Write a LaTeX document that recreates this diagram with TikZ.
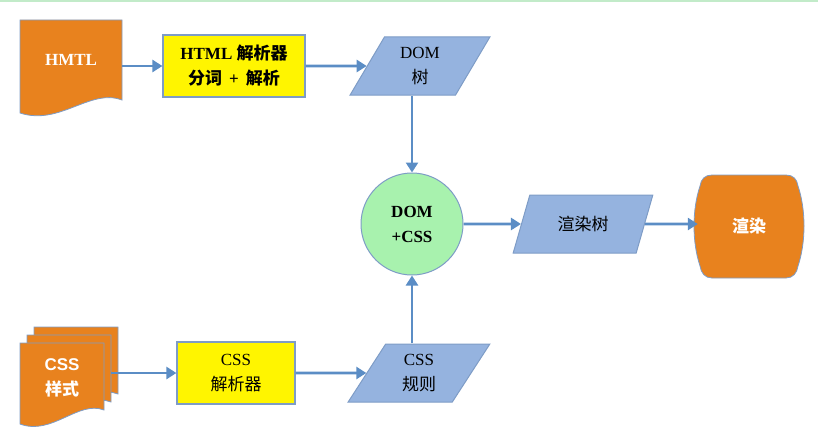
\documentclass[tikz,border=0pt]{standalone}
\usepackage{fontspec}
\setmainfont{Liberation Serif}
\newfontfamily\cjk{Noto Sans CJK SC}
\newfontfamily\sans{Liberation Sans}
\usetikzlibrary{shapes.geometric,arrows.meta}
\definecolor{arrowblue}{HTML}{5B8DC5}
\definecolor{docorange}{HTML}{E8821E}
\definecolor{parseryellow}{HTML}{FFF500}
\definecolor{datablue}{HTML}{95B3DF}
\definecolor{mergegreen}{HTML}{A8F2AE}
\definecolor{edgeblue}{HTML}{7E9CC6}
\definecolor{topgreen}{HTML}{C2EBC9}
\tikzset{
  arr/.style={-{Triangle[length=10pt,width=12pt]},line width=2.8pt,draw=arrowblue},
  txt/.style={font=\fontsize{17}{25}\selectfont,align=center,inner sep=0pt},
  parser/.style={txt,draw=edgeblue,line width=1.2pt,fill=parseryellow,minimum width=142pt,minimum height=62pt},
  datum/.style={txt,trapezium,trapezium left angle=63,trapezium right angle=117,trapezium stretches=true,draw=edgeblue,line width=1pt,fill=datablue,minimum width=140pt,minimum height=58pt},
  merge/.style={txt,circle,draw=edgeblue,line width=1pt,fill=mergegreen,minimum size=102pt},
  docshape/.style={draw=edgeblue,line width=0.8pt,fill=docorange},
}
\begin{document}
\begin{tikzpicture}[x=1pt,y=-1pt]
\useasboundingbox (0,0) rectangle (818,436);
\draw[topgreen,line width=2pt] (0,1) -- (818,1);
% source documents
\draw[docshape] (20,20) -- (122,20) -- (122,100) .. controls (90,88) and (60,126) .. (20,113) -- cycle;
\foreach \dx/\dy in {14/-16,7/-8,0/0}
  \draw[docshape,shift={(\dx,\dy)}] (20,343) -- (104,343) -- (104,410) .. controls (78,400) and (52,436) .. (20,424) -- cycle;
\draw[docshape] (712,175) -- (786,175) .. controls (793,175) and (797,179) .. (798,186)
  .. controls (806,210) and (806,242) .. (798,266) .. controls (797,273) and (793,278) .. (786,278)
  -- (712,278) .. controls (705,278) and (701,273) .. (700,266)
  .. controls (692,242) and (692,210) .. (700,186) .. controls (701,179) and (705,175) .. (712,175) -- cycle;
\node[txt,text=white,minimum width=102pt,minimum height=80pt] (html) at (71,60) {\textbf{HMTL}};
\node[txt,text=white,minimum width=98pt,minimum height=70pt] (css) at (62,378) {\sans\bfseries CSS\\\cjk\bfseries 样式};
\node[txt,text=white,minimum width=102pt,minimum height=102pt] (render) at (749,226) {\cjk\bfseries 渲染};
% parsers and trees
\node[parser] (htmlparser) at (234,66) {\textbf{HTML} {\cjk\bfseries 解析器}\\{\cjk\bfseries 分词} \textbf{\,+\,} {\cjk\bfseries 解析}};
\node[parser,minimum width=118pt] (cssparser) at (236,373) {CSS\\{\cjk 解析器}};
\node[datum] (dom) at (420,66) {DOM\\{\cjk 树}};
\node[datum,minimum width=142pt] (rules) at (419,373) {CSS\\{\cjk 规则}};
\node[merge] (merged) at (412,224) {\textbf{DOM}\\\textbf{+CSS}};
\node[datum] (tree) at (583,224) {\cjk 渲染树};
% flow
\draw[arr] (html.east |- htmlparser) -- (htmlparser);
\draw[arr] (htmlparser) -- (dom);
\draw[arr] (dom.south -| merged) -- (merged);
\draw[arr] (css.east |- cssparser) -- (cssparser);
\draw[arr] (cssparser) -- (rules);
\draw[arr] (rules.north -| merged) -- (merged);
\draw[arr] (merged) -- (tree);
\draw[arr] (tree) -- (render.west |- tree);
\end{tikzpicture}
\end{document}
